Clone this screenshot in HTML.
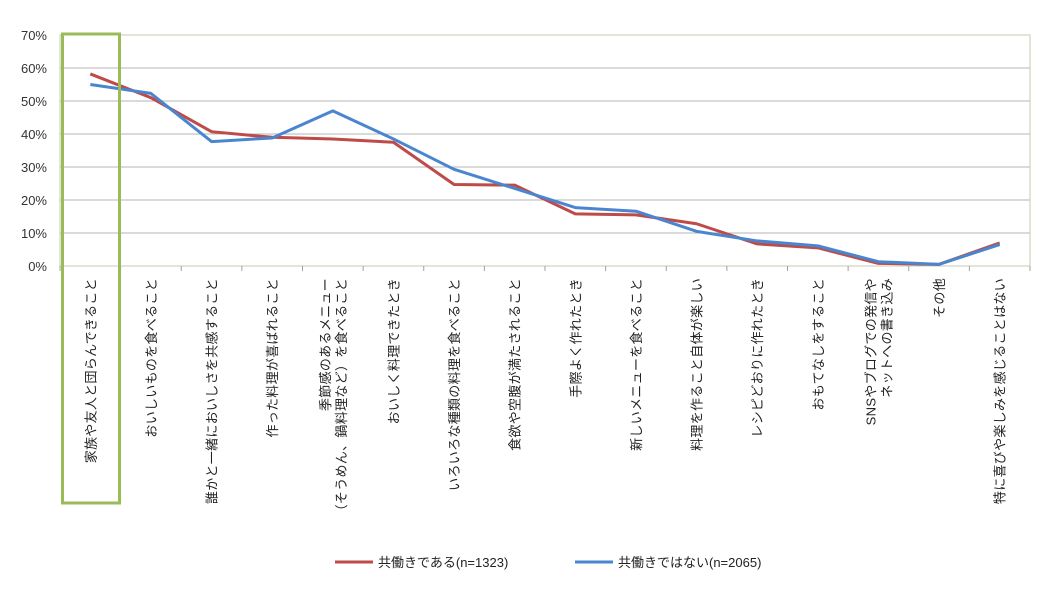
<!DOCTYPE html>
<html><head><meta charset="utf-8"><style>
body{margin:0;background:#fff;}
svg{display:block;font-family:"Liberation Sans","Noto Sans CJK JP",sans-serif;}
</style></head><body>
<svg id="chart" width="1047" height="590"></svg>
<script>
const categories=[["家族や友人と団らんできること"],["おいしいものを食べること"],["誰かと一緒においしさを共感すること"],["作った料理が喜ばれること"],["季節感のあるメニュー","（そうめん、鍋料理など）を食べること"],["おいしく料理できたとき"],["いろいろな種類の料理を食べること"],["食欲や空腹が満たされること"],["手際よく作れたとき"],["新しいメニューを食べること"],["料理を作ること自体が楽しい"],["レシピどおりに作れたとき"],["おもてなしをすること"],["SNSやブログでの発信や","ネットへの書き込み"],["その他"],["特に喜びや楽しみを感じることはない"]];
const seriesA=[58.2,51.0,40.7,39.0,38.5,37.5,24.7,24.5,15.8,15.5,12.8,6.7,5.5,0.8,0.5,7.0];
const seriesB=[55.0,52.3,37.7,38.8,47.0,38.5,29.3,23.5,17.7,16.6,10.5,7.6,6.1,1.3,0.5,6.5];
const yTicks=[0,10,20,30,40,50,60,70];
const seriesNames=["共働きである(n=1323)","共働きではない(n=2065)"];

const NS="http://www.w3.org/2000/svg";
const svg=document.getElementById('chart');
const L=60,R=1030,T=35,B=266;
const step=(R-L)/categories.length;
const x=i=>L+step*(i+0.5);
const y=v=>B-(v/70)*(B-T);
function mk(tag,attrs,parent){const e=document.createElementNS(NS,tag);for(const k in attrs)e.setAttribute(k,attrs[k]);(parent||svg).appendChild(e);return e;}

yTicks.forEach(t=>{
  const g=mk('line',{x1:L,x2:R,y1:y(t),y2:y(t),stroke:t===0?'#a0a0a0':'#b4b4b4','stroke-width':1});
  
  
  const tx=mk('text',{x:47,y:y(t)+5,'text-anchor':'end','font-size':13,fill:'#333'});
  tx.textContent=t+'%';
  
  
});
const border=mk('rect',{x:L,y:T,width:R-L,height:B-T,fill:'none',stroke:'#c8c8b0','stroke-width':1});


for(let i=0;i<=categories.length;i++){
  const tk=mk('line',{x1:L+step*i,x2:L+step*i,y1:B,y2:B+5,stroke:'#a0a0a0'});
  
  
}
categories.forEach((lines,i)=>{
  const n=lines.length;
  lines.forEach((s,j)=>{
    const cx=x(i)+(j-(n-1)/2)*16+5;
    const t=mk('text',{x:0,y:0,transform:`translate(${cx},278) rotate(-90)`,'text-anchor':'end','font-size':13,fill:'#222','letter-spacing':'0.3'});
    t.textContent=s;
    
    
  });
});
function line(vals,color,name){
  const p=mk('polyline',{points:vals.map((v,i)=>x(i)+','+y(v)).join(' '),fill:'none',stroke:color,'stroke-width':3,'stroke-linejoin':'round'});
  
  
}
line(seriesA,'#be4b48','series-dual-income');
line(seriesB,'#4a86d0','series-not-dual-income');

const hl=mk('rect',{x:62.5,y:34,width:57,height:469,fill:'none',stroke:'#9bbb59','stroke-width':3});



[[335,'#be4b48',seriesNames[0]],[575,'#4a86d0',seriesNames[1]]].forEach(([lx,c,s],k)=>{
  const g=mk('g',{});
  
  
  mk('line',{x1:lx,x2:lx+38,y1:562,y2:562,stroke:c,'stroke-width':3},g);
  const t=mk('text',{x:lx+43,y:567,'font-size':13,fill:'#222'},g);
  t.textContent=s;
});
</script>
</body></html>
